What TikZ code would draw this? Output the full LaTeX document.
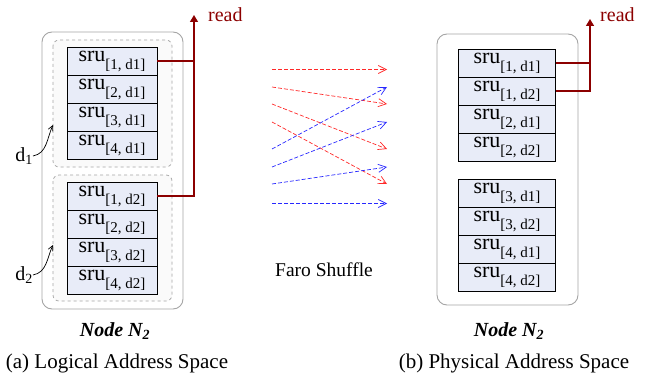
\documentclass[tikz,border=0pt]{standalone}
\usepackage{fontspec}
\setmainfont{Liberation Serif}
\usetikzlibrary{positioning,arrows.meta,fit}
\definecolor{cellblue}{RGB}{232,236,248}
\definecolor{readred}{RGB}{140,0,0}
\definecolor{boxgray}{RGB}{165,165,165}
\definecolor{shufred}{RGB}{255,40,40}
\definecolor{shufblue}{RGB}{40,40,255}
\newcommand{\sru}[2]{sru\raisebox{-8pt}{\fontsize{15}{18}\selectfont[#1, #2]}}
\tikzset{
  cell/.style={draw, fill=cellblue, line width=0.8pt, outer sep=0pt, inner sep=0pt,
    minimum height=28pt, font=\fontsize{22}{26}\selectfont},
  lcell/.style={cell, minimum width=90pt},
  rcell/.style={cell, minimum width=97pt},
  outerbox/.style={draw=boxgray, line width=0.9pt, rounded corners=10pt, fill=white},
  groupbox/.style={draw=boxgray, dashed, line width=0.7pt, rounded corners=6pt, fill=black!2},
  readline/.style={readred, line width=1.4pt},
  readtip/.style={readline, -{Triangle[length=7pt,width=8pt]}},
  shuffle/.style={line width=0.7pt, dash pattern=on 4pt off 2pt, -{Straight Barb[length=8pt,width=8pt]}},
  redshuffle/.style={shuffle, draw=shufred},
  blueshuffle/.style={shuffle, draw=shufblue},
  curvearrow/.style={line width=0.7pt, -{Straight Barb[length=5pt,width=5pt]}},
  txt/.style={font=\fontsize{20}{24}\selectfont, inner sep=0pt},
  caption/.style={font=\fontsize{21}{25}\selectfont, inner sep=0pt},
  nodename/.style={font=\fontsize{20}{24}\selectfont\bfseries\itshape, inner sep=0pt}
}
\begin{document}
\begin{tikzpicture}[x=1pt,y=-1pt]
\useasboundingbox (0,0) rectangle (660,382);

\draw[outerbox] (42,32) rectangle (183,309);
\draw[groupbox] (53,40) rectangle (172,167);
\draw[groupbox] (53,175) rectangle (172,301);

\node[lcell] (l11) at (112,61) {\sru{1}{d1}};
\node[lcell, below=0pt of l11] (l21) {\sru{2}{d1}};
\node[lcell, below=0pt of l21] (l31) {\sru{3}{d1}};
\node[lcell, below=0pt of l31] (l41) {\sru{4}{d1}};
\node[lcell] (l12) at (112,196) {\sru{1}{d2}};
\node[lcell, below=0pt of l12] (l22) {\sru{2}{d2}};
\node[lcell, below=0pt of l22] (l32) {\sru{3}{d2}};
\node[lcell, below=0pt of l32] (l42) {\sru{4}{d2}};

\coordinate (lread) at (194,15);
\draw[readline] (l11.east) -- (l11.east -| lread);
\draw[readtip] (l12.east) -| (lread);
\node[txt, anchor=base west, text=readred] (lreadtxt) at (208,22) {read};

\node[txt] (d1) at (24,156) {d\textsubscript{1}};
\coordinate (d1tip) at (53,125);
\draw[curvearrow] (d1.east) to[out=10, in=-115] (d1tip);
\node[txt] (d2) at (24,275) {d\textsubscript{2}};
\coordinate (d2tip) at (53,245);
\draw[curvearrow] (d2.east) to[out=10, in=-115] (d2tip);

\node[nodename] (lname) at (115,331) {Node N\textsubscript{2}};
\node[caption] (lcap) at (117,363) {(a) Logical Address Space};

\foreach \i/\y in {1/69.5,2/87,3/104,4/122,5/149,6/167,7/184,8/203.5} {
  \coordinate (s\i) at (272,\y);
  \coordinate (t\i) at (387,\y);
}
\foreach \a/\b in {1/1,2/3,3/5,4/7}
  \draw[redshuffle] (s\a) -- (t\b);
\foreach \a/\b in {5/2,6/4,7/6,8/8}
  \draw[blueshuffle] (s\a) -- (t\b);
\node[txt, font=\fontsize{19.5}{23}\selectfont] (faro) at (324,270) {Faro Shuffle};

\draw[outerbox] (437,34) rectangle (578,305);

\node[rcell] (r11) at (507,63) {\sru{1}{d1}};
\node[rcell, below=0pt of r11] (r12) {\sru{1}{d2}};
\node[rcell, below=0pt of r12] (r21) {\sru{2}{d1}};
\node[rcell, below=0pt of r21] (r22) {\sru{2}{d2}};
\node[rcell] (r31) at (507,193) {\sru{3}{d1}};
\node[rcell, below=0pt of r31] (r32) {\sru{3}{d2}};
\node[rcell, below=0pt of r32] (r41) {\sru{4}{d1}};
\node[rcell, below=0pt of r41] (r42) {\sru{4}{d2}};

\coordinate (rread) at (590,19);
\draw[readline] (r11.east) -- (r11.east -| rread);
\draw[readtip] (r12.east) -| (rread);
\node[txt, anchor=base west, text=readred] (rreadtxt) at (600,22) {read};

\node[nodename] (rname) at (509,331) {Node N\textsubscript{2}};
\node[caption] (rcap) at (514,363) {(b) Physical Address Space};
\end{tikzpicture}
\end{document}
